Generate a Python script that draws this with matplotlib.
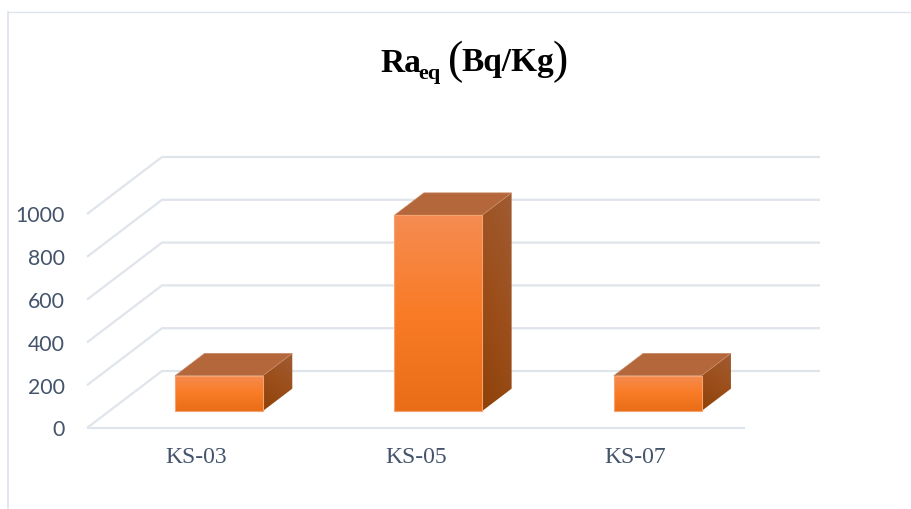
import numpy as np
import matplotlib
matplotlib.use("Agg")
import matplotlib.pyplot as plt
from matplotlib.colors import LinearSegmentedColormap
from matplotlib.lines import Line2D
from matplotlib.patches import Polygon
from matplotlib.transforms import ScaledTranslation

# Radium equivalent activity per sample
samples = ["KS-03", "KS-05", "KS-07"]
raeq = [165, 915, 165]
yticks = [0, 200, 400, 600, 800, 1000]

W, H = 912, 509
GRID = "#e0e4eb"
TEXT = "#44546a"

# oblique projection: how far one unit of depth moves a point, in data units
DEPTH_X = 75 / 219.33
DEPTH_Y = 57 / 0.214
BAR_W = 0.4
BAR_D0, BAR_D1 = 0.298, 0.69


def proj(x, v, d):
    return x + d * DEPTH_X, v + d * DEPTH_Y


def shade(ax, pts, colors, angle=90):
    # fill a polygon with a linear gradient clipped to its outline
    pts = np.array(pts)
    x0, y0 = pts.min(axis=0)
    x1, y1 = pts.max(axis=0)
    u, v = np.meshgrid(np.linspace(0, 1, 64), np.linspace(0, 1, 256))
    t = np.radians(angle)
    g = u * np.cos(t) + v * np.sin(t)
    g = (g - g.min()) / (g.max() - g.min())
    cmap = LinearSegmentedColormap.from_list("face", colors)
    im = ax.imshow(g, extent=[x0, x1, y1, y0], origin="upper", cmap=cmap,
                   aspect="auto", interpolation="bilinear", zorder=3)
    outline = Polygon(pts, closed=True, transform=ax.transData)
    im.set_clip_path(outline)
    # the bars rise past the front plane, so only the figure may cut them
    im.set_clip_box(ax.figure.bbox)


fig = plt.figure(figsize=(W / 100, H / 100), dpi=100)
ax = fig.add_axes([87 / W, 1 - 428 / H, (745 - 87) / W, 214 / H])

# frame around the chart area, cut by the edge of the image
fig.add_artist(Line2D([8.5 / W, 8.5 / W], [0, 1 - 11.5 / H], color=GRID, lw=1.3))
fig.add_artist(Line2D([8 / W, 1], [1 - 11.5 / H, 1 - 11.5 / H], color=GRID, lw=1.0))

# floor edge, side wall and back wall lines
xl, xr = -0.5, 2.5
ax.plot([xl, xr], [0, 0], color=GRID, lw=1.6, clip_on=False, zorder=1,
        solid_capstyle="butt")
for v in yticks:
    bx, by = proj(xl, v, 1)
    ex, ey = proj(xr, v, 1)
    ax.plot([xl, bx, ex], [v, by, ey], color=GRID, lw=1.6, clip_on=False,
            solid_joinstyle="miter", solid_capstyle="butt", zorder=1)

# 3d bars: front, right side and top faces
for i, val in enumerate(raeq):
    xa, xb = i - BAR_W / 2, i + BAR_W / 2
    fa = proj(xa, 0, BAR_D0)
    fb = proj(xb, 0, BAR_D0)
    ta = proj(xa, val, BAR_D0)
    tb = proj(xb, val, BAR_D0)
    bb = proj(xb, 0, BAR_D1)
    bt = proj(xb, val, BAR_D1)
    at = proj(xa, val, BAR_D1)

    shade(ax, [fa, fb, tb, ta], ["#e96d17", "#f97b26", "#f58c52"])
    shade(ax, [fb, bb, bt, tb], ["#8e4209", "#9c4f1b", "#a05c33"], angle=70)
    ax.add_patch(Polygon([ta, tb, bt, at], closed=True, fc="#b5673c",
                         ec="#c98a66", lw=0.5, zorder=4, clip_on=False))
    ax.add_patch(Polygon([fa, fb, tb, ta], closed=True, fc="none",
                         ec="#f6a26f", lw=0.8, zorder=4, clip_on=False))

ax.set_xlim(xl, xr)
ax.set_ylim(0, 1000)
ax.set_xticks(range(len(samples)))
ax.set_xticklabels(samples, family="Liberation Serif", fontsize=17, color=TEXT)
ax.set_yticks(yticks)
ax.set_yticklabels([str(v) for v in yticks], family="Lato", fontsize=15.3, color=TEXT)
ax.tick_params(length=0)
ax.tick_params(axis="x", pad=13.7)
ax.tick_params(axis="y", pad=16)
nudge = ScaledTranslation(0, -0.5 / 100, fig.dpi_scale_trans)
for lab in ax.get_yticklabels():
    lab.set_transform(lab.get_transform() + nudge)
for s in ax.spines.values():
    s.set_visible(False)
ax.patch.set_alpha(0)

# title pieces: the subscript and the tall brackets need their own sizes
title_font = dict(family="Liberation Serif", color="black", ha="left", va="baseline")
base = H - 71.5
fig.text(380 / W, base / H, "Ra", fontsize=24, weight="bold", **title_font)
fig.text(418.5 / W, (base - 8) / H, "eq", fontsize=16, weight="bold", **title_font)
fig.text(448 / W, (base - 2) / H, "(", fontsize=33, **title_font)
fig.text(461.5 / W, base / H, "Bq/Kg", fontsize=24, weight="bold", **title_font)
fig.text(553 / W, (base - 2) / H, ")", fontsize=33, **title_font)

fig.savefig("out.png", dpi=100, facecolor="white")
